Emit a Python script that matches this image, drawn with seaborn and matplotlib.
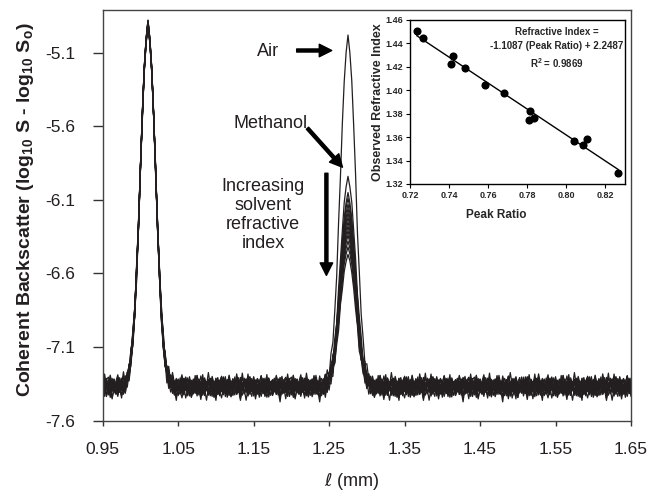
import numpy as np
import pandas as pd
import matplotlib
matplotlib.use("Agg")
import matplotlib.pyplot as plt
import seaborn as sns

# positions along the sample (mm), one sample every 2.5 um
ell_step = 0.0025
ell_mm = np.round(np.arange(0.95, 1.65 + ell_step / 2, ell_step), 4)

# peak positions (mm)
ref_peak_pos = 1.01
sample_peak_pos = 1.275

# one trace per solvent: air first, then methanol, then the rest
ref_peak_top = [-4.88, -4.89, -4.90, -4.89, -4.91, -4.88, -4.90, -4.92,
                -4.89, -4.90, -4.91, -4.88, -4.90, -4.89, -4.91]
sample_peak_top = [-4.98, -5.94, -6.05, -6.09, -6.13, -6.16, -6.19, -6.22,
                   -6.25, -6.28, -6.31, -6.34, -6.38, -6.42, -6.47]
baseline_level = [-7.37, -7.35, -7.39, -7.36, -7.34, -7.40, -7.37, -7.35,
                  -7.40, -7.38, -7.35, -7.39, -7.36, -7.34, -7.39]

# normalised peak profile (29 samples, +-0.035 mm around the peak)
peak_shape = [0.0, 0.004, 0.01, 0.022, 0.042, 0.078, 0.13, 0.21, 0.32, 0.45,
              0.6, 0.745, 0.87, 0.95, 1.0, 0.95, 0.87, 0.745, 0.6, 0.45,
              0.32, 0.21, 0.13, 0.078, 0.042, 0.022, 0.01, 0.004, 0.0]

# baseline noise
baseline_jitter = [0.012, -0.031, 0.024, -0.008, 0.041, -0.022, 0.003, -0.045,
                   0.019, 0.036, -0.014, 0.027, -0.038, 0.006, 0.052, -0.019,
                   -0.002, 0.031, -0.027, 0.015, -0.061, 0.022, 0.009, -0.035,
                   0.044, -0.011, 0.018, -0.024, 0.067, -0.016, 0.028, -0.041,
                   0.005, 0.033, -0.029, 0.011, -0.007, 0.039, -0.048, 0.021,
                   -0.013, 0.026, -0.033, 0.058, -0.004, 0.017, -0.052, 0.029,
                   -0.018, 0.008, 0.037, -0.026, 0.014, -0.039, 0.023, -0.006,
                   0.046, -0.021, 0.002, -0.072, 0.031, -0.012, 0.019, -0.034,
                   0.041, -0.009, 0.025, -0.043, 0.013, 0.035, -0.017, 0.004,
                   -0.028, 0.049, -0.015, 0.021, -0.037, 0.007, 0.032, -0.023,
                   0.063, -0.030, 0.016, -0.010, 0.038, -0.046, 0.011, -0.019,
                   0.027, -0.005, 0.043, -0.032, 0.018, -0.056, 0.024, -0.014,
                   0.009]

# inset: refractive index vs peak ratio
peak_ratio = [0.7234, 0.7268, 0.7411, 0.7421, 0.7481, 0.7584, 0.7681,
              0.7807, 0.7812, 0.7832, 0.8038, 0.8084, 0.8104, 0.8266]
observed_index = [1.4508, 1.4443, 1.4228, 1.4294, 1.4191, 1.4048, 1.3976,
                  1.3748, 1.3827, 1.3765, 1.3570, 1.3533, 1.3585, 1.3290]
fit_slope = -1.1087
fit_intercept = 2.2487
fit_r2 = 0.9869

xticks_main = [0.95, 1.05, 1.15, 1.25, 1.35, 1.45, 1.55, 1.65]
yticks_main = [-7.6, -7.1, -6.6, -6.1, -5.6, -5.1]
xticks_inset = [0.72, 0.74, 0.76, 0.78, 0.80, 0.82]
yticks_inset = [1.32, 1.34, 1.36, 1.38, 1.40, 1.42, 1.44, 1.46]


def build_traces():
    n = len(ell_mm)
    shape = np.array(peak_shape)
    half = len(shape) // 2
    jitter = np.array(baseline_jitter)
    c1 = int(np.argmin(np.abs(ell_mm - ref_peak_pos)))
    c2 = int(np.argmin(np.abs(ell_mm - sample_peak_pos)))
    rows = []
    for k in range(len(sample_peak_top)):
        prof_ref = np.zeros(n)
        prof_smp = np.zeros(n)
        prof_ref[c1 - half:c1 + half + 1] = shape
        prof_smp[c2 - half:c2 + half + 1] = shape
        base = baseline_level[k]
        noise = np.resize(np.roll(jitter, 7 * k), n)
        bump = np.maximum(prof_ref, prof_smp)
        y = (base + noise * (1 - bump)
             + prof_ref * (ref_peak_top[k] - base)
             + prof_smp * (sample_peak_top[k] - base))
        rows.append(pd.DataFrame({"ell_mm": ell_mm, "signal": y, "trace": k}))
    return pd.concat(rows, ignore_index=True)


sns.set_theme(style="ticks")
plt.rcParams["font.family"] = ["Liberation Sans", "DejaVu Sans"]
plt.rcParams["axes.unicode_minus"] = False
plt.rcParams["mathtext.fontset"] = "custom"
plt.rcParams["mathtext.rm"] = "Liberation Sans"
plt.rcParams["mathtext.bf"] = "Liberation Sans:bold"

ink = "#231f20"
fig = plt.figure(figsize=(6.5, 4.91), dpi=100)
ax = fig.add_axes([0.158, 0.1432, 0.8128, 0.8364])

df = build_traces()
sns.lineplot(data=df, x="ell_mm", y="signal", units="trace", estimator=None,
             color=ink, lw=0.9, legend=False, ax=ax)

ax.set_xlim(0.95, 1.65)
ax.set_ylim(-7.6, -4.81)
ax.set_xticks(xticks_main)
ax.set_xticklabels([f"{v:.2f}" for v in xticks_main])
ax.set_yticks(yticks_main)
ax.set_yticklabels([f"{v:.1f}" for v in yticks_main])
ax.tick_params(labelsize=12.5, width=1, color="#333333", labelcolor=ink)
ax.tick_params(axis="x", length=3.5, pad=12)
ax.tick_params(axis="y", length=7, pad=13)
for s in ax.spines.values():
    s.set_color("#444444")
    s.set_linewidth(1)
ax.set_xlabel(r"$\ell$ (mm)", fontsize=13, color=ink)
ax.xaxis.set_label_coords(0.472, -0.122)
ax.set_ylabel(r"Coherent Backscatter (log$_{\mathbf{10}}$ S - log$_{\mathbf{10}}$ S$_{\mathbf{o}}$)",
              fontsize=14, fontweight="bold", color=ink)
ax.yaxis.set_label_coords(-0.127, 0.514)

# annotations
arrow = dict(width=2.2, headwidth=9, headlength=9, color="black", shrink=0)
ax.text(1.1686, -5.089, "Air", fontsize=13, ha="center", va="center", color=ink)
ax.annotate("", xy=(1.2535, -5.085), xytext=(1.2070, -5.085), arrowprops=arrow)
ax.text(1.172, -5.579, "Methanol", fontsize=13, ha="center", va="center", color=ink)
ax.annotate("", xy=(1.2677, -5.878), xytext=(1.2213, -5.613), arrowprops=arrow)
ax.text(1.1626, -6.205, "Increasing\nsolvent\nrefractive\nindex", fontsize=13,
        ha="center", va="center", linespacing=1.15, color=ink)
ax.annotate("", xy=(1.2464, -6.613), xytext=(1.2464, -5.919), arrowprops=arrow)

# inset
ax_in = fig.add_axes([0.6308, 0.6253, 0.3308, 0.334])
ax_in.set_facecolor("white")
sns.scatterplot(x=peak_ratio, y=observed_index, color="black", s=34,
                edgecolor="black", linewidth=0, ax=ax_in, zorder=3)
fit_x = [min(peak_ratio), max(peak_ratio)]
fit_y = [fit_slope * v + fit_intercept for v in fit_x]
sns.lineplot(x=fit_x, y=fit_y, color="black", lw=1, ax=ax_in)
ax_in.set_xlim(0.72, 0.83)
ax_in.set_ylim(1.32, 1.46)
ax_in.set_xticks(xticks_inset)
ax_in.set_xticklabels([f"{v:.2f}" for v in xticks_inset])
ax_in.set_yticks(yticks_inset)
ax_in.set_yticklabels([f"{v:.2f}" for v in yticks_inset])
ax_in.tick_params(labelsize=6.5, length=3, width=0.8, pad=2, color="black")
for lab in ax_in.get_xticklabels() + ax_in.get_yticklabels():
    lab.set_fontweight("bold")
for s in ax_in.spines.values():
    s.set_color("black")
    s.set_linewidth(1)
ax_in.set_xlabel("Peak Ratio", fontsize=8.5, fontweight="bold", labelpad=1)
ax_in.xaxis.set_label_coords(0.4, -0.15)
ax_in.set_ylabel("Observed Refractive Index", fontsize=9, fontweight="bold")
ax_in.yaxis.set_label_coords(-0.121, 0.5)
ax_in.text(0.684, 0.955,
           "Refractive Index =\n-1.1087 (Peak Ratio) + 2.2487\n"
           + r"R$^{\mathbf{2}}$ = " + f"{fit_r2:.4f}",
           transform=ax_in.transAxes, ha="center", va="top", fontsize=7,
           fontweight="bold", linespacing=1.45)

fig.savefig("out.png", dpi=100)
